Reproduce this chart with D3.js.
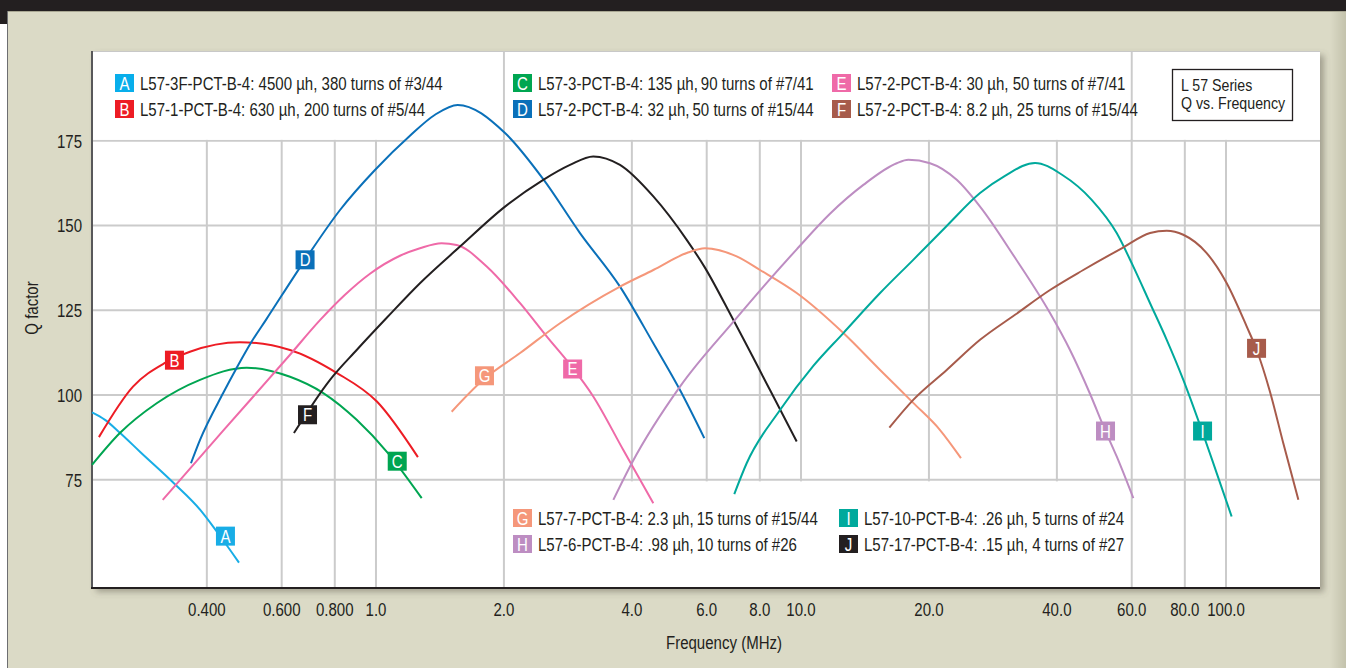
<!DOCTYPE html>
<html>
<head>
<meta charset="utf-8">
<script src="https://cdn.jsdelivr.net/npm/d3@7"></script>
<style>
  body { margin: 0; background: #fff; }
</style>
</head>
<body>
<div id="viz"></div>
<script>
const width = 1346,
    height = 668,
    plot = { left: 92, top: 51, right: 1320, bottom: 588 };

// condensed look: Liberation Sans squeezed horizontally
const FONT = "'Liberation Sans', Arial, sans-serif",
    NARROW = 0.835;

// axis ticks
const xTicks = [0.4, 0.6, 0.8, 1, 2, 4, 6, 8, 10, 20, 40, 60, 80, 100];
const xTickLabels = ["0.400", "0.600", "0.800", "1.0", "2.0", "4.0", "6.0", "8.0", "10.0", "20.0", "40.0", "60.0", "80.0", "100.0"];
const yTicks = [75, 100, 125, 150, 175];

// curves: [frequency MHz, Q]
const curveA = [[0.2147, 94.9], [0.2304, 92.7], [0.2497, 88.9], [0.2784, 83.3], [0.3365, 73.7], [0.3855, 66.2], [0.4224, 59.7], [0.4761, 50.6]];
const curveB = [[0.2229, 87.6], [0.2681, 102.5], [0.3188, 109.5], [0.365, 112.8], [0.4786, 115.6], [0.6277, 113.3], [0.8095, 106.5], [1.005, 98.1], [1.255, 81.7]];
const curveC = [[0.2147, 79.4], [0.2497, 88.8], [0.3048, 97.6], [0.3855, 104.5], [0.4965, 108.1], [0.6277, 105.4], [0.7516, 100.6], [0.9007, 92.7], [1.067, 82.9], [1.281, 69.6]];
const curveD = [[0.367, 79.9], [0.3855, 86.8], [0.437, 100.6], [0.47, 108.0], [0.51, 115.8], [0.551, 122.2], [0.681, 139.9], [0.823, 154.6], [0.9945, 166.4], [1.202, 176.5], [1.377, 182.7], [1.557, 185.6], [2.012, 177.3], [2.475, 163.7], [3.02, 147.8], [3.751, 132.0], [4.493, 115.3], [5.192, 101.5], [5.923, 87.3]];
const curveE = [[0.3149, 69.1], [0.437, 89.5], [0.6277, 111.9], [0.7383, 122.1], [0.8455, 129.6], [0.968, 135.8], [1.139, 141.1], [1.269, 143.3], [1.427, 144.8], [1.548, 144.3], [1.822, 137.9], [2.183, 127.1], [2.521, 117.3], [2.887, 108.4], [3.245, 99.6], [3.819, 83.8], [4.493, 68.1]];
const curveF = [[0.6411, 88.8], [0.7796, 104.5], [0.9007, 113.3], [1.06, 122.8], [1.269, 133.0], [1.576, 143.8], [2.012, 155.6], [2.475, 163.5], [2.861, 167.9], [3.245, 170.4], [3.751, 167.9], [4.493, 158.6], [5.384, 145.8], [5.923, 137.9], [6.929, 122.2], [8.455, 101.5], [9.77, 86.3]];
const curveG = [[1.507, 95.1], [1.788, 104.5], [2.183, 112.4], [2.71, 121.2], [3.751, 132.0], [4.493, 136.9], [5.384, 141.9], [5.945, 143.3], [7.058, 140.9], [8.009, 136.9], [9.77, 130.1], [12.58, 118.3], [15.35, 107.4], [18.37, 97.7], [21.24, 89.7], [23.79, 81.4]];
const curveH = [[3.618, 69.1], [3.997, 79.9], [5.192, 102.5], [6.929, 121.6], [8.305, 133.1], [9.77, 143.0], [11.7, 153.5], [14.02, 162.0], [16.8, 168.4], [17.89, 169.4], [20.12, 168.4], [23.25, 163.5], [26.38, 155.6], [31.89, 140.5], [38.54, 124.2], [42.95, 113.3], [47.86, 100.4], [51.92, 89.7], [55.31, 81.9], [60.53, 69.6]];
const curveI = [[6.967, 70.8], [7.45, 79.9], [8.926, 95.6], [10.69, 108.6], [12.58, 118.3], [15.35, 130.1], [18.37, 139.9], [22.02, 149.9], [26.38, 159.6], [30.2, 164.7], [35.53, 168.5], [41.13, 165.0], [48.31, 157.6], [55.31, 147.8], [60.53, 137.9], [66.27, 127.1], [72.53, 116.3], [79.35, 104.5], [87.68, 89.7], [95.08, 77.0], [103.1, 64.2]];
const curveJ = [[16.14, 90.4], [18.37, 98.6], [22.02, 107.4], [26.38, 116.3], [31.89, 123.7], [38.54, 131.0], [46.15, 136.9], [56.83, 143.3], [66.27, 147.8], [72.53, 148.5], [79.35, 147.3], [90.07, 141.9], [100.4, 133.0], [111.9, 120.2], [118.1, 113.3], [126.9, 101.0], [136.4, 85.8], [148.0, 69.1]];

const curves = [curveA, curveB, curveC, curveD, curveE, curveF, curveG, curveH, curveI, curveJ];
const curveLetters = ["A", "B", "C", "D", "E", "F", "G", "H", "I", "J"];
const curveColors = ["#18ade6", "#ed1c24", "#00a551", "#0a70b9", "#ef6aa8", "#231f20", "#f5977a", "#bd8dc2", "#00a99c", "#a75b4b"];

// where the letter tags sit on each curve
const labelFreq = [0.4424, 0.3356, 1.122, 0.681, 2.902, 0.6901, 1.8, 52.06, 88.07, 118.0];
const labelQ = [58.4, 110.3, 80.5, 139.9, 107.7, 94.2, 105.7, 89.4, 89.4, 113.8];

// legend
const legendLetters = ["A", "B", "C", "D", "E", "F", "G", "H", "I", "J"];
const legendColors = ["#08aeeb", "#ed1c24", "#00a651", "#0a70b9", "#ef6aa8", "#a75b4b", "#f5977a", "#bd8dc2", "#00a99c", "#231f20"];
const legendTexts = [
    "L57-3F-PCT-B-4: 4500 \u00b5h, 380 turns of #3/44",
    "L57-1-PCT-B-4: 630 \u00b5h, 200 turns of #5/44",
    "L57-3-PCT-B-4: 135 \u00b5h,\u200990 turns of #7/41",
    "L57-2-PCT-B-4: 32 \u00b5h,\u200950 turns of #15/44",
    "L57-2-PCT-B-4: 30 \u00b5h, 50 turns of #7/41",
    "L57-2-PCT-B-4: 8.2 \u00b5h, 25 turns of #15/44",
    "L57-7-PCT-B-4: 2.3 \u00b5h,\u200915 turns of #15/44",
    "L57-6-PCT-B-4: .98 \u00b5h,\u200910 turns of #26",
    "L57-10-PCT-B-4: .26 \u00b5h, 5 turns of #24",
    "L57-17-PCT-B-4: .15 \u00b5h, 4 turns of #27"
];
const titleLines = ["L 57 Series", "Q vs. Frequency"];

// legend slot positions (swatch top-left)
const legendSlots = [[115, 74], [115, 100], [513, 74], [513, 100], [832, 74], [832, 100], [513, 509], [513, 535], [839, 509], [839, 535]];

const x = d3.scaleLog()
    .domain([0.2147, 166.4])
    .range([plot.left, plot.right]);

const y = d3.scaleLinear()
    .domain([43.1, 201.5])
    .range([plot.bottom, plot.top]);

const svg = d3.select("#viz").append("svg")
    .attr("width", width)
    .attr("height", height)
    .style("display", "block")
    .style("font-family", FONT);

// put a text at (px, py) and squeeze it
function squeeze(sel, px, py, extra) {
    return sel.attr("transform", (d, i) => {
        const tx = typeof px === "function" ? px(d, i) : px,
            ty = typeof py === "function" ? py(d, i) : py;
        return "translate(" + tx + "," + ty + ")" + (extra || "") + " scale(" + NARROW + ",1)";
    });
}

const defs = svg.append("defs");
const shadow = defs.append("filter").attr("id", "shadow")
    .attr("x", "-5%").attr("y", "-5%").attr("width", "115%").attr("height", "120%");
shadow.append("feDropShadow")
    .attr("dx", 4).attr("dy", 4).attr("stdDeviation", 3)
    .attr("flood-color", "#5a5848").attr("flood-opacity", 0.45);

const edge = defs.append("linearGradient").attr("id", "edge")
    .attr("x1", "0%").attr("x2", "100%");
edge.append("stop").attr("offset", "0%").attr("stop-color", "#dbdac6");
edge.append("stop").attr("offset", "100%").attr("stop-color", "#c3c2ac");

// page frame
svg.append("rect").attr("width", width).attr("height", height).attr("fill", "#fff");
svg.append("rect").attr("x", 8).attr("y", 11).attr("width", width - 8).attr("height", height - 11).attr("fill", "#dbdac6");
svg.append("rect").attr("x", 1330).attr("y", 11).attr("width", 16).attr("height", height - 11).attr("fill", "url(#edge)");
svg.append("rect").attr("width", width).attr("height", 11).attr("fill", "#231f20");
svg.append("rect").attr("width", 8).attr("height", 24).attr("fill", "#231f20");
svg.append("line").attr("x1", 7.5).attr("x2", 7.5).attr("y1", 11).attr("y2", height).attr("stroke", "#6d6e71").attr("stroke-width", 1);
svg.append("line").attr("x1", 8).attr("x2", width).attr("y1", 11.5).attr("y2", 11.5).attr("stroke", "#a9a793").attr("stroke-width", 1);

// plot panel
svg.append("rect")
    .attr("x", plot.left).attr("y", plot.top)
    .attr("width", plot.right - plot.left).attr("height", plot.bottom - plot.top)
    .attr("fill", "#fff")
    .attr("filter", "url(#shadow)");

const grid = svg.append("g").attr("stroke", "#cbcbcb").attr("stroke-width", 2);

grid.selectAll(".vgrid")
    .data(xTicks)
    .enter().append("line")
    .attr("x1", d => x(d)).attr("x2", d => x(d))
    .attr("y1", plot.top).attr("y2", plot.bottom);

grid.selectAll(".hgrid")
    .data(yTicks)
    .enter().append("line")
    .attr("x1", plot.left).attr("x2", plot.right)
    .attr("y1", d => y(d)).attr("y2", d => y(d));

// white legend panels hide the grid behind them
const covers = svg.append("g").attr("fill", "#fff");
covers.append("rect")
    .attr("x", plot.left + 1).attr("y", plot.top + 1)
    .attr("width", x(2) - 1.5 - plot.left - 1).attr("height", y(175) - 1 - plot.top - 1);
covers.append("rect")
    .attr("x", x(2) + 1.5).attr("y", plot.top + 1)
    .attr("width", x(60) - x(2) - 3).attr("height", y(175) - 1 - plot.top - 1);
covers.append("rect")
    .attr("x", x(60) + 1.5).attr("y", plot.top + 1)
    .attr("width", plot.right - x(60) - 1.5).attr("height", y(175) - 1 - plot.top - 1);
covers.append("rect")
    .attr("x", x(2) + 1.5).attr("y", y(75) + 1.5)
    .attr("width", x(60) - x(2) - 3).attr("height", plot.bottom - y(75) - 2.5);

// axes frame
svg.append("line")
    .attr("x1", plot.left).attr("x2", plot.right)
    .attr("y1", plot.top + 0.5).attr("y2", plot.top + 0.5)
    .attr("stroke", "#c8c8c8").attr("stroke-width", 1);
svg.append("line")
    .attr("x1", plot.left).attr("x2", plot.left)
    .attr("y1", plot.top).attr("y2", plot.bottom + 1)
    .attr("stroke", "#58585a").attr("stroke-width", 2);
svg.append("line")
    .attr("x1", plot.left - 1).attr("x2", plot.right)
    .attr("y1", plot.bottom).attr("y2", plot.bottom)
    .attr("stroke", "#231f20").attr("stroke-width", 2);

// curves
const line = d3.line()
    .x(d => x(d[0]))
    .y(d => y(d[1]))
    .curve(d3.curveMonotoneX);

svg.append("g").selectAll("path")
    .data(curves)
    .enter().append("path")
    .attr("d", line)
    .attr("fill", "none")
    .attr("stroke", (d, i) => curveColors[i])
    .attr("stroke-width", 2);

// letter tags on curves
const tags = svg.append("g").selectAll("g")
    .data(curveLetters)
    .enter().append("g")
    .attr("transform", (d, i) => "translate(" + x(labelFreq[i]) + "," + y(labelQ[i]) + ")");

tags.append("rect")
    .attr("x", -9.5).attr("y", -9.5)
    .attr("width", 19).attr("height", 19)
    .attr("fill", (d, i) => curveColors[i]);

squeeze(tags.append("text"), 0, 6.5)
    .attr("text-anchor", "middle")
    .attr("fill", "#fff")
    .style("font-size", "18px")
    .text(d => d);

// legend entries
const legend = svg.append("g").selectAll("g")
    .data(legendTexts)
    .enter().append("g")
    .attr("transform", (d, i) => "translate(" + legendSlots[i][0] + "," + legendSlots[i][1] + ")");

legend.append("rect")
    .attr("width", 19).attr("height", 18)
    .attr("fill", (d, i) => legendColors[i]);

squeeze(legend.append("text"), 9.5, 15.5)
    .attr("text-anchor", "middle")
    .attr("fill", "#fff")
    .style("font-size", "18px")
    .text((d, i) => legendLetters[i]);

squeeze(legend.append("text"), 25, 15.5)
    .attr("fill", "#231f20")
    .style("font-size", "18px")
    .text(d => d);

// title box
svg.append("rect")
    .attr("x", 1172.5).attr("y", 69.5)
    .attr("width", 120).attr("height", 51)
    .attr("fill", "#fff")
    .attr("stroke", "#231f20").attr("stroke-width", 1.3);

squeeze(svg.append("g").selectAll("text")
    .data(titleLines)
    .enter().append("text"), 1181, (d, i) => 90.5 + i * 18)
    .attr("fill", "#231f20")
    .style("font-size", "17px")
    .text(d => d);

// tick labels
squeeze(svg.append("g").selectAll("text")
    .data(xTicks)
    .enter().append("text"), d => x(d), 616)
    .attr("text-anchor", "middle")
    .attr("fill", "#231f20")
    .style("font-size", "18px")
    .text((d, i) => xTickLabels[i]);

squeeze(svg.append("g").selectAll("text")
    .data(yTicks)
    .enter().append("text"), 82, d => y(d) + 6.8)
    .attr("text-anchor", "end")
    .attr("fill", "#231f20")
    .style("font-size", "18px")
    .text(d => d);

// axis titles
squeeze(svg.append("text"), 724, 648.5)
    .attr("text-anchor", "middle")
    .attr("fill", "#231f20")
    .style("font-size", "18px")
    .text("Frequency (MHz)");

squeeze(svg.append("text"), 38, 308, " rotate(-90)")
    .attr("text-anchor", "middle")
    .attr("fill", "#231f20")
    .style("font-size", "18px")
    .text("Q factor");
</script>
</body>
</html>
